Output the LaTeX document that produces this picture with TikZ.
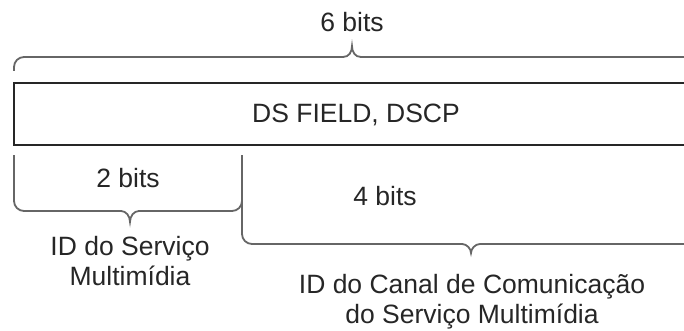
\documentclass[tikz,border=0pt]{standalone}
\usepackage{fontspec}
\setmainfont{Liberation Sans}
\begin{document}
\begin{tikzpicture}[x=1pt,y=-1pt,
  lbl/.style={font=\fontsize{26.5}{30}\selectfont, text=black!85, inner sep=0pt, anchor=base},
  brace/.style={draw=black!60, line width=1.8pt, rounded corners=10pt},
  fieldbox/.style={draw=black!85, line width=1.4pt}]
\useasboundingbox (0,0) rectangle (684,331);
\clip (0,0) rectangle (684,331);

% the 6-bit DS field
\draw[fieldbox] (700,83) -- (14,83) -- (14,145) -- (700,145);
\node[lbl] (ds) at (356,123) {DS FIELD, DSCP};

% brace over the whole field
\coordinate (t0) at (14,71);
\coordinate (tip6) at (352,46);
\draw[brace] (t0) -- (14,57) -- (343,57);
\draw[draw=black!60, line width=1.8pt]
  (343,57) .. controls (349,57) and (352,52) .. (tip6)
           .. controls (352,52) and (355,57) .. (361,57) -- (700,57);
\node[lbl] (six) at (352,32) {6 bits};

% brace under the first 2 bits
\coordinate (a0) at (14,155);
\coordinate (a1) at (242,155);
\coordinate (tip2) at (130,222);
\draw[brace] (a0) -- (14,211) -- (122,211);
\draw[draw=black!60, line width=1.8pt]
  (121,211) .. controls (126,211) and (130,216) .. (tip2)
            .. controls (130,216) and (134,211) .. (139,211);
\draw[brace] (138,211) -- (242,211) -- (a1);
\node[lbl] (two) at (128,187) {2 bits};
% multi-line labels: the base anchor sits on the last line
\node[lbl, align=center] (svc) at (130,285) {ID do Serviço\\Multimídia};

% brace under the last 4 bits
\coordinate (tip4) at (471,253);
\draw[brace] (a1) -- (242,244) -- (463,244);
\draw[draw=black!60, line width=1.8pt]
  (462,244) .. controls (467,244) and (471,249) .. (tip4)
            .. controls (471,249) and (475,244) .. (480,244) -- (700,244);
\node[lbl] (four) at (385,205) {4 bits};
\node[lbl, align=center] (chan) at (472,323) {ID do Canal de Comunicação\\do Serviço Multimídia};
\end{tikzpicture}
\end{document}
